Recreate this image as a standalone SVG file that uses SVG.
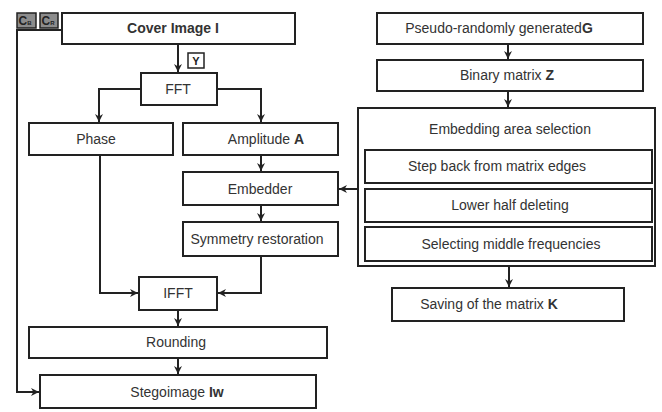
<svg xmlns="http://www.w3.org/2000/svg" width="662" height="412" viewBox="0 0 662 412">
<defs>
<marker id="ah" viewBox="0 0 10 10" refX="10" refY="5" markerWidth="8" markerHeight="8" markerUnits="userSpaceOnUse" orient="auto">
<path d="M0,0 L10,5 L0,10 L3,5 z" fill="#222"/>
</marker>
<style>
.box{fill:#fff;stroke:#222;stroke-width:2}
.t{font-family:"Liberation Sans",Arial,sans-serif;font-size:14px;fill:#333;text-anchor:middle;dominant-baseline:central}
.b{font-weight:bold}
.c{fill:none;stroke:#222;stroke-width:2}
.a{marker-end:url(#ah)}
.sq{fill:#8c8c8c;stroke:#222;stroke-width:1.5}
.s{font-family:"Liberation Sans",Arial,sans-serif;font-weight:bold;fill:#222;text-anchor:middle;dominant-baseline:central}
</style>
</defs>
<rect width="662" height="412" fill="#fff"/>
<g id="connectors">
<path class="c" d="M62,30 H17 V392 H39" marker-end="url(#ah)"/>
<path class="c a" d="M178,44 V72"/>
<path class="c a" d="M141,89 H99 V122"/>
<path class="c a" d="M217,89 H261 V122"/>
<path class="c a" d="M261,155 V171"/>
<path class="c a" d="M261,205 V221"/>
<path class="c a" d="M100,155 V293 H138"/>
<path class="c a" d="M261,256 V293 H218"/>
<path class="c a" d="M178,310 V326"/>
<path class="c a" d="M178,358 V374"/>
<path class="c a" d="M358,189 H339"/>
<path class="c a" d="M508,44 V59"/>
<path class="c a" d="M508,91 V107"/>
<path class="c a" d="M509,266 V287"/>
</g>
<g id="cr">
<rect class="sq" x="17" y="13" width="19" height="15"/>
<text class="s" x="25" y="21" font-size="12">C<tspan font-size="6" dy="2">B</tspan></text>
</g>
<g id="cb">
<rect class="sq" x="40" y="13" width="18" height="15"/>
<text class="s" x="48" y="21" font-size="12">C<tspan font-size="6" dy="2">R</tspan></text>
</g>
<g id="cover">
<rect class="box" x="62" y="13" width="233" height="31"/>
<text class="t b" x="173" y="28" font-size="15">Cover Image I</text>
</g>
<g id="y">
<rect x="188" y="53" width="16" height="15" fill="#fff" stroke="#222" stroke-width="1.5"/>
<text class="s" x="196" y="61" font-size="11">Y</text>
</g>
<g id="fft">
<rect class="box" x="141" y="73" width="76" height="32"/>
<text class="t" x="178" y="89">FFT</text>
</g>
<g id="phase">
<rect class="box" x="29" y="123" width="144" height="32"/>
<text class="t" x="96" y="139">Phase</text>
</g>
<g id="amplitude">
<rect class="box" x="183" y="123" width="155" height="32"/>
<text class="t" x="266" y="139">Amplitude <tspan class="b">A</tspan></text>
</g>
<g id="embedder">
<rect class="box" x="183" y="172" width="155" height="33"/>
<text class="t" x="260" y="189">Embedder</text>
</g>
<g id="symmetry">
<rect class="box" x="183" y="222" width="155" height="34"/>
<text class="t" x="257" y="239">Symmetry restoration</text>
</g>
<g id="ifft">
<rect class="box" x="139" y="277" width="78" height="33"/>
<text class="t" x="178" y="293">IFFT</text>
</g>
<g id="rounding">
<rect class="box" x="29" y="327" width="298" height="31"/>
<text class="t" x="176" y="342">Rounding</text>
</g>
<g id="stego">
<rect class="box" x="40" y="375" width="276" height="33"/>
<text class="t" x="177" y="392">Stegoimage <tspan class="b">Iw</tspan></text>
</g>
<g id="pseudo">
<rect class="box" x="377" y="13" width="266" height="31"/>
<text class="t" x="499" y="28">Pseudo-randomly generated<tspan class="b">G</tspan></text>
</g>
<g id="binary">
<rect class="box" x="377" y="60" width="266" height="31"/>
<text class="t" x="507" y="75">Binary matrix <tspan class="b">Z</tspan></text>
</g>
<g id="area">
<rect class="box" x="358" y="108" width="297" height="158"/>
<text class="t" x="510" y="129">Embedding area selection</text>
</g>
<g id="stepback">
<rect class="box" x="365" y="150" width="287" height="33"/>
<text class="t" x="497" y="166">Step back from matrix edges</text>
</g>
<g id="lowerhalf">
<rect class="box" x="365" y="189" width="287" height="33"/>
<text class="t" x="510" y="205">Lower half deleting</text>
</g>
<g id="middle">
<rect class="box" x="365" y="227" width="287" height="34"/>
<text class="t" x="511" y="244">Selecting middle frequencies</text>
</g>
<g id="saving">
<rect class="box" x="392" y="288" width="232" height="33"/>
<text class="t" x="489" y="304">Saving of the matrix <tspan class="b">K</tspan></text>
</g>
</svg>
